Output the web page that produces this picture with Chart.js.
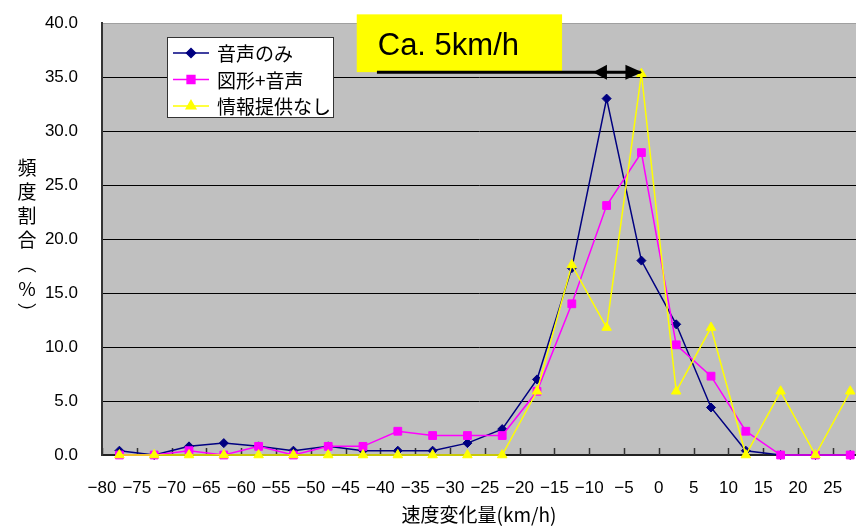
<!DOCTYPE html>
<html>
<head>
<meta charset="utf-8">
<script src="https://cdn.jsdelivr.net/npm/chart.js@4.4.0/dist/chart.umd.min.js"></script>
<style>
  html, body { margin: 0; padding: 0; background: #fff; }
  #wrap { width: 856px; height: 526px; }
</style>
</head>
<body>
<div id="wrap"><canvas id="chart"></canvas></div>
<script>
// 速度変化量の階級（5km/h刻みの中央値）
const binCenters = [-77.5, -72.5, -67.5, -62.5, -57.5, -52.5, -47.5, -42.5, -37.5, -32.5, -27.5,
                    -22.5, -17.5, -12.5, -7.5, -2.5, 2.5, 7.5, 12.5, 17.5, 22.5, 27.5];
const xTickValues = [-80, -75, -70, -65, -60, -55, -50, -45, -40, -35, -30,
                     -25, -20, -15, -10, -5, 0, 5, 10, 15, 20, 25];
const seriesNames = ['音声のみ', '図形+音声', '情報提供なし'];
const voiceOnly   = [0.4, 0.0, 0.8, 1.1, 0.8, 0.4, 0.8, 0.4, 0.4, 0.4, 1.1,
                     2.4, 7.0, 17.3, 33.0, 18.0, 12.1, 4.4, 0.4, 0.0, 0.0, 0.0];
const figureVoice = [0.0, 0.0, 0.4, 0.0, 0.8, 0.0, 0.8, 0.8, 2.2, 1.8, 1.8,
                     1.8, 5.9, 14.0, 23.1, 28.0, 10.2, 7.3, 2.2, 0.0, 0.0, 0.0];
const noInfo      = [0.0, 0.0, 0.0, 0.0, 0.0, 0.0, 0.0, 0.0, 0.0, 0.0, 0.0,
                     0.0, 5.9, 17.6, 11.8, 35.3, 5.9, 11.8, 0.0, 5.9, 0.0, 5.9];

const yTitle = ['頻', '度', '割', '合', '︵', '%', '︶'];
const xTitle = '速度変化量(km/h)';
const noteText = 'Ca. 5km/h';

const CJK = '"Noto Sans CJK JP", sans-serif';
const LATIN = '"Liberation Sans", Arial, sans-serif';

const toPoints = (vals) => vals.map((v, i) => ({ x: binCenters[i], y: v }));

const styles = [
  { color: '#000080', pointStyle: 'rectRot', radius: 4.5 },
  { color: '#FF00FF', pointStyle: 'rect', radius: 5.5 },
  { color: '#FFFF00', pointStyle: 'triangle', radius: 5.5 }
];

const decor = {
  id: 'decor',
  beforeDraw(chart) {
    const { ctx, chartArea: a } = chart;
    ctx.save();
    ctx.fillStyle = '#C0C0C0';
    ctx.fillRect(a.left, a.top, a.right - a.left, a.bottom - a.top);
    ctx.restore();
  },
  beforeDatasetsDraw(chart) {
    // 内向きの目盛り
    const { ctx, chartArea: a, scales: { x } } = chart;
    ctx.save();
    ctx.strokeStyle = '#333';
    ctx.lineWidth = 1.5;
    x.ticks.forEach(t => {
      const px = Math.round(x.getPixelForValue(t.value)) + 0.5;
      ctx.beginPath();
      ctx.moveTo(px, a.bottom);
      ctx.lineTo(px, a.bottom - 7);
      ctx.stroke();
    });
    ctx.restore();
  },
  afterDatasetsDraw(chart) {
    const { ctx, scales: { x, y } } = chart;
    ctx.save();

    // 凡例
    ctx.fillStyle = '#fff';
    ctx.fillRect(167, 37, 166, 80);
    ctx.strokeStyle = '#333';
    ctx.lineWidth = 1;
    ctx.strokeRect(167.5, 37.5, 166, 80);
    chart.data.datasets.forEach((ds, i) => {
      const ry = 53 + i * 26.5;
      ctx.strokeStyle = ds.borderColor;
      ctx.lineWidth = 1.5;
      ctx.beginPath();
      ctx.moveTo(173, ry);
      ctx.lineTo(209, ry);
      ctx.stroke();
      ctx.fillStyle = ds.backgroundColor;
      ctx.strokeStyle = ds.borderColor;
      Chart.helpers.drawPoint(ctx, { pointStyle: ds.pointStyle, radius: ds.pointRadius, rotation: 0, borderWidth: 1 }, 191, ry);
      ctx.fillStyle = '#000';
      ctx.font = '19px ' + CJK;
      ctx.textBaseline = 'middle';
      ctx.textAlign = 'left';
      ctx.fillText(ds.label, 217, ry + 1);
    });

    // 注記ボックス
    const bx0 = x.getPixelForValue(-43.4), bx1 = x.getPixelForValue(-13.9);
    const by0 = y.getPixelForValue(40.8), by1 = y.getPixelForValue(35.45);
    ctx.fillStyle = '#FFFF00';
    ctx.fillRect(bx0, by0, bx1 - bx0, by1 - by0);
    ctx.fillStyle = '#000';
    ctx.font = '31px ' + LATIN;
    ctx.textBaseline = 'alphabetic';
    ctx.fillText(noteText, bx0 + 21, by0 + 41);

    // 矢印
    const ay = y.getPixelForValue(35.45);
    ctx.strokeStyle = '#000';
    ctx.lineWidth = 3;
    ctx.beginPath();
    ctx.moveTo(x.getPixelForValue(-40.5), ay);
    ctx.lineTo(x.getPixelForValue(-2.6), ay);
    ctx.stroke();
    ctx.fillStyle = '#000';
    const head = (tip, base) => {
      const tx = x.getPixelForValue(tip), bx = x.getPixelForValue(base);
      ctx.beginPath();
      ctx.moveTo(tx, ay);
      ctx.lineTo(bx, ay - 7.5);
      ctx.lineTo(bx, ay + 7.5);
      ctx.closePath();
      ctx.fill();
    };
    head(-9.45, -7.45);
    head(-2.4, -4.8);
    ctx.restore();
  },
  afterDraw(chart) {
    const { ctx, chartArea: a } = chart;
    ctx.save();
    ctx.fillStyle = '#000';
    ctx.font = '19px ' + CJK;
    ctx.textAlign = 'center';
    ctx.textBaseline = 'middle';
    const mid = (a.top + a.bottom) / 2 + 1;
    yTitle.forEach((ch, i) => {
      ctx.fillText(ch, 27, mid + (i - 3) * 24.2);
    });
    ctx.restore();
  }
};

const datasets = [voiceOnly, figureVoice, noInfo].map((vals, i) => ({
  label: seriesNames[i],
  data: toPoints(vals),
  borderColor: styles[i].color,
  backgroundColor: styles[i].color,
  borderWidth: 1.5,
  pointStyle: styles[i].pointStyle,
  pointRadius: styles[i].radius,
  pointHoverRadius: styles[i].radius,
  pointBorderWidth: 1,
  tension: 0,
  clip: false,
  order: 3 - i
}));

new Chart(document.getElementById('chart'), {
  type: 'line',
  data: { datasets },
  options: {
    responsive: true,
    maintainAspectRatio: false,
    animation: false,
    layout: { autoPadding: false, padding: { top: 23, right: 0, bottom: 0, left: 0 } },
    plugins: {
      legend: { display: false },
      tooltip: { enabled: false }
    },
    scales: {
      x: {
        type: 'linear',
        min: -80,
        max: 28.33,
        afterBuildTicks: (s) => { s.ticks = xTickValues.map(v => ({ value: v })); },
        afterFit: (s) => { s.height = 71; s.paddingRight = 0; s.paddingLeft = 0; },
        grid: { display: true, drawOnChartArea: false, drawTicks: true, tickLength: 19, tickColor: 'rgba(0,0,0,0)' },
        border: { display: true, color: '#222', width: 2 },
        ticks: {
          autoSkip: false,
          maxRotation: 0,
          padding: 4,
          color: '#000',
          font: { family: LATIN, size: 17 },
          callback: (v) => (v < 0 ? '\u2212' + Math.abs(v) : String(v))
        },
        title: {
          display: true,
          text: xTitle,
          color: '#000',
          font: { family: CJK, size: 19 },
          padding: { top: 0, bottom: 0 }
        }
      },
      y: {
        min: 0,
        max: 40,
        afterFit: (s) => { s.width = 102; },
        grid: {
          drawTicks: true,
          tickLength: 20,
          tickColor: 'rgba(0,0,0,0)',
          color: (c) => (c.tick && c.tick.value === 40 ? '#A0A0A0' : '#000'),
          lineWidth: 1
        },
        border: { display: true, color: '#333', width: 2 },
        ticks: {
          stepSize: 5,
          padding: 4,
          color: '#000',
          font: { family: LATIN, size: 17 },
          callback: (v) => v.toFixed(1)
        }
      }
    }
  },
  plugins: [decor]
});
</script>
</body>
</html>
